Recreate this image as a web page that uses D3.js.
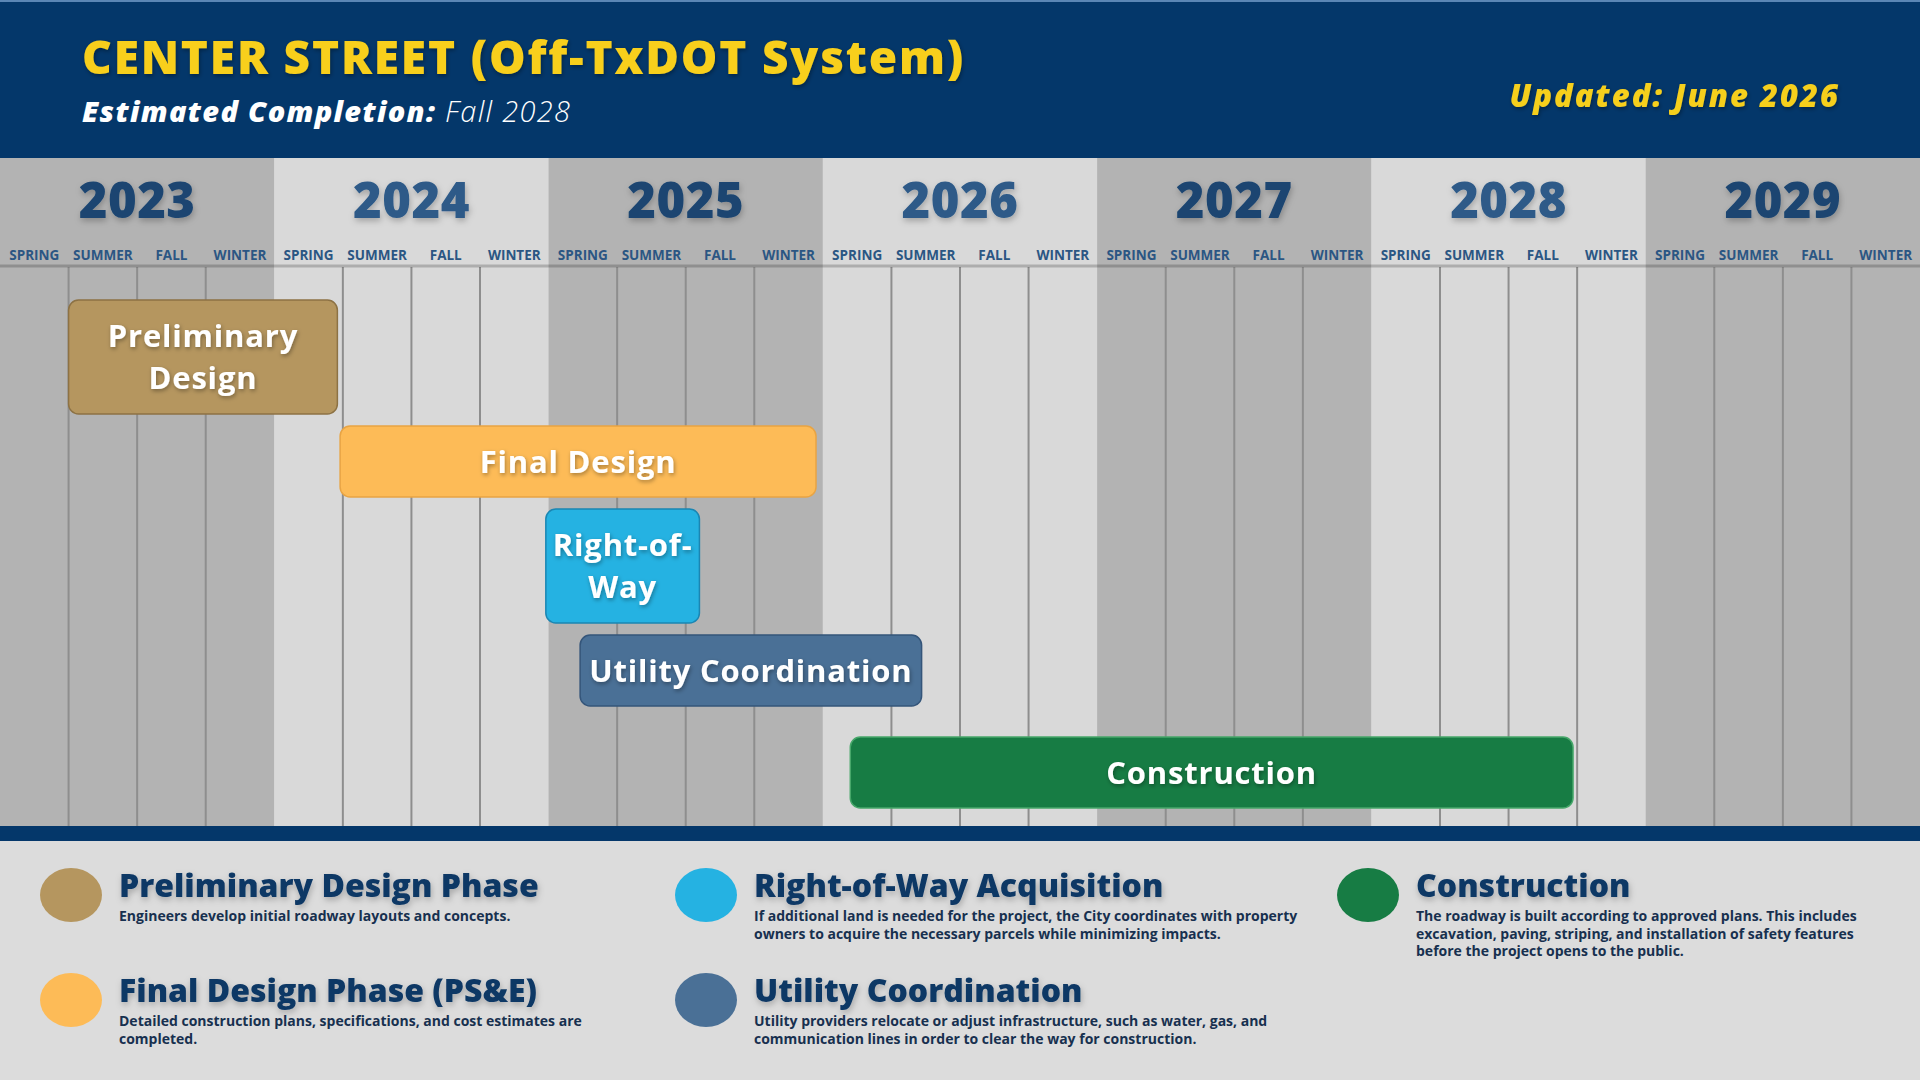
<!DOCTYPE html>
<html>
<head>
<meta charset="utf-8">
<script src="https://cdn.jsdelivr.net/npm/d3@7"></script>
<style>
  html, body { margin: 0; padding: 0; background: #dcdcdc; }
  svg { display: block; font-family: "Open Sans", "Noto Sans", sans-serif; }
</style>
</head>
<body>
<svg id="chart" width="1920" height="1080"></svg>
<script>
// timeline data (times in decimal years)
const years = [2023, 2024, 2025, 2026, 2027, 2028, 2029];
const seasons = ['SPRING', 'SUMMER', 'FALL', 'WINTER'];

const phaseLabels = [['Preliminary', 'Design'], ['Final Design'], ['Right-of-', 'Way'], ['Utility Coordination'], ['Construction']];
const phaseStart = [2023.25, 2024.24, 2024.99, 2025.115, 2026.10];
const phaseEnd = [2024.23, 2025.975, 2025.55, 2026.36, 2028.735];
const phaseColors = ['#b5965f', '#fdbb57', '#25b2e2', '#4a7096', '#177c44'];
const phaseStrokes = ['#8d7244', '#e8a444', '#1a86b3', '#34557a', '#47a76a'];

const legendTitles = ['Preliminary Design Phase', 'Final Design Phase (PS&E)', 'Right-of-Way Acquisition', 'Utility Coordination', 'Construction'];
const legendText = [
  ['Engineers develop initial roadway layouts and concepts.'],
  ['Detailed construction plans, specifications, and cost estimates are', 'completed.'],
  ['If additional land is needed for the project, the City coordinates with property', 'owners to acquire the necessary parcels while minimizing impacts.'],
  ['Utility providers relocate or adjust infrastructure, such as water, gas, and', 'communication lines in order to clear the way for construction.'],
  ['The roadway is built according to approved plans. This includes', 'excavation, paving, striping, and installation of safety features', 'before the project opens to the public.']
];

const titleText = 'CENTER STREET (Off-TxDOT System)';
const completionLabel = 'Estimated Completion:';
const completionValue = ' Fall 2028';
const updatedText = 'Updated: June 2026';

const W = 1920, H = 1080;
const NAVY = '#04376a';
const headerH = 158;     // navy title band
const gridTop = 158;     // year / season header row starts
const bodyTop = 267;     // bars area
const bodyBottom = 826;
const stripeH = 15;

const svg = d3.select('#chart');

// shadow filters for the text
const defs = svg.append('defs');
function shadow(id, dy, blur, opacity) {
  defs.append('filter')
    .attr('id', id)
    .attr('x', '-20%').attr('y', '-30%')
    .attr('width', '140%').attr('height', '170%')
    .append('feDropShadow')
    .attr('dx', 1).attr('dy', dy)
    .attr('stdDeviation', blur)
    .attr('flood-color', '#000')
    .attr('flood-opacity', opacity);
}
shadow('txtShadow', 2, 2, 0.35);
shadow('softShadow', 3, 3, 0.25);

const x = d3.scaleLinear().domain([years[0], years[years.length - 1] + 1]).range([0, W]);
const seasonW = x(years[0] + 0.25) - x(years[0]);

// legend background
svg.append('rect').attr('x', 0).attr('y', 0).attr('width', W).attr('height', H).attr('fill', '#dcdcdc');

// year columns, alternating shade
svg.selectAll('.yearcol')
  .data(years)
  .enter()
  .append('rect')
  .attr('class', 'yearcol')
  .attr('x', d => x(d))
  .attr('y', gridTop)
  .attr('width', d => x(d + 1) - x(d))
  .attr('height', bodyBottom - gridTop)
  .attr('fill', (d, i) => (i % 2 ? '#d9d9d9' : '#b3b3b3'));

// season grid lines (only inside a year, the year edge is the shade change)
const gridLines = [];
years.forEach(yr => [1, 2, 3].forEach(s => gridLines.push(yr + s / 4)));
svg.selectAll('.gridline')
  .data(gridLines)
  .enter()
  .append('line')
  .attr('class', 'gridline')
  .attr('x1', d => x(d))
  .attr('x2', d => x(d))
  .attr('y1', bodyTop)
  .attr('y2', bodyBottom)
  .attr('stroke', '#8e8e8e')
  .attr('stroke-width', 2);

// header / body separator
svg.append('line')
  .attr('x1', 0).attr('x2', W)
  .attr('y1', bodyTop - 1).attr('y2', bodyTop - 1)
  .attr('stroke', 'rgba(0,0,0,0.2)')
  .attr('stroke-width', 3);

// year labels
svg.selectAll('.yearlabel')
  .data(years)
  .enter()
  .append('text')
  .attr('class', 'yearlabel')
  .attr('x', d => x(d + 0.5))
  .attr('y', 218)
  .attr('text-anchor', 'middle')
  .attr('font-size', 49)
  .attr('font-weight', 800)
  .attr('letter-spacing', 0.5)
  .attr('fill', (d, i) => (i % 2 ? '#2d5a88' : '#1b4571'))
  .attr('filter', 'url(#softShadow)')
  .text(d => d);

// season labels
const seasonCells = [];
years.forEach(yr => seasons.forEach((s, i) => seasonCells.push({t: yr + i / 4, label: s})));
svg.selectAll('.seasonlabel')
  .data(seasonCells)
  .enter()
  .append('text')
  .attr('class', 'seasonlabel')
  .attr('x', d => x(d.t) + seasonW / 2)
  .attr('y', 260)
  .attr('text-anchor', 'middle')
  .attr('font-size', 13.5)
  .attr('font-weight', 700)
  .attr('fill', '#2b5683')
  .text(d => d.label);

// bars: stacked from the top, construction sits on the bottom of the body
const barH = lines => (lines > 1 ? 114 : 71);
const gap = 12;
const bars = [];
let yCursor = 300;
phaseLabels.forEach((lab, i) => {
  const h = barH(lab.length);
  const last = i === phaseLabels.length - 1;
  const y0 = last ? bodyBottom - 18 - h : yCursor;
  bars.push({i, lab, y: y0, h, start: phaseStart[i], end: phaseEnd[i]});
  yCursor = y0 + h + gap;
});

const barG = svg.selectAll('.bar')
  .data(bars)
  .enter()
  .append('g')
  .attr('class', 'bar');
barG.append('rect')
  .attr('x', d => x(d.start))
  .attr('y', d => d.y)
  .attr('width', d => x(d.end) - x(d.start))
  .attr('height', d => d.h)
  .attr('rx', 10)
  .attr('fill', d => phaseColors[d.i])
  .attr('stroke', d => phaseStrokes[d.i])
  .attr('stroke-width', 1.5);
barG.append('text')
  .attr('text-anchor', 'middle')
  .attr('font-size', 31)
  .attr('font-weight', 700)
  .attr('letter-spacing', 0.8)
  .attr('fill', '#fff')
  .attr('filter', 'url(#txtShadow)')
  .each(function(d) {
    const cx = (x(d.start) + x(d.end)) / 2;
    const lineH = 42;
    const first = d.y + d.h / 2 - ((d.lab.length - 1) * lineH) / 2 + 11;
    d3.select(this)
      .selectAll('tspan')
      .data(d.lab)
      .enter()
      .append('tspan')
      .attr('x', cx)
      .attr('y', (l, k) => first + k * lineH)
      .text(l => l);
  });

// navy title band and stripe under the chart
svg.append('rect').attr('x', 0).attr('y', 0).attr('width', W).attr('height', headerH).attr('fill', NAVY);
svg.append('rect').attr('x', 0).attr('y', 0).attr('width', W).attr('height', 2).attr('fill', '#5b86b5');
svg.append('rect').attr('x', 0).attr('y', bodyBottom).attr('width', W).attr('height', stripeH).attr('fill', NAVY);

svg.append('text')
  .attr('x', 82)
  .attr('y', 74)
  .attr('font-size', 46)
  .attr('font-weight', 800)
  .attr('letter-spacing', 1.8)
  .attr('fill', '#f8cf1c')
  .attr('filter', 'url(#txtShadow)')
  .text(titleText);

const sub = svg.append('text')
  .attr('x', 82)
  .attr('y', 122)
  .attr('font-size', 29)
  .attr('font-style', 'italic')
  .attr('letter-spacing', 1.3)
  .attr('fill', '#fff');
sub.append('tspan').attr('font-weight', 800).text(completionLabel);
sub.append('tspan').attr('font-weight', 300).text(completionValue);

svg.append('text')
  .attr('x', 1840)
  .attr('y', 107)
  .attr('text-anchor', 'end')
  .attr('font-size', 31)
  .attr('font-weight', 800)
  .attr('font-style', 'italic')
  .attr('letter-spacing', 2)
  .attr('fill', '#f6cf1e')
  .attr('filter', 'url(#txtShadow)')
  .text(updatedText);

// legend, filled column by column (two rows)
const legendCols = [71, 706, 1368];
const legendRows = [895, 1000];
const legend = svg.selectAll('.legenditem')
  .data(legendTitles)
  .enter()
  .append('g')
  .attr('class', 'legenditem')
  .attr('transform', (d, i) => `translate(${legendCols[Math.floor(i / 2)]},${legendRows[i % 2]})`);
legend.append('ellipse')
  .attr('rx', 31)
  .attr('ry', 27)
  .attr('fill', (d, i) => phaseColors[i]);
legend.append('text')
  .attr('x', 48)
  .attr('y', 2)
  .attr('font-size', 32)
  .attr('font-weight', 800)
  .attr('fill', '#0e3865')
  .attr('filter', 'url(#softShadow)')
  .text(d => d);
legend.append('text')
  .attr('font-size', 14)
  .attr('font-weight', 700)
  .attr('fill', '#17304f')
  .each(function(d, i) {
    d3.select(this)
      .selectAll('tspan')
      .data(legendText[i])
      .enter()
      .append('tspan')
      .attr('x', 48)
      .attr('y', (l, k) => 26 + k * 17.5)
      .text(l => l);
  });
</script>
</body>
</html>
